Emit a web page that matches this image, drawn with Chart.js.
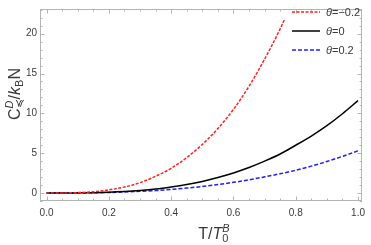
<!DOCTYPE html>
<html>
<head>
<meta charset="utf-8">
<script src="https://cdn.jsdelivr.net/npm/chart.js@4.4.1/dist/chart.umd.min.js"></script>
<style>
  html, body { margin: 0; padding: 0; background: #fff; }
  #wrap { width: 371px; height: 245px; }
</style>
</head>
<body>
<div id="wrap"><canvas id="specHeat" width="371" height="245"></canvas></div>
<script>
/* data */
const tRed = [0, 0.05, 0.1, 0.15, 0.2, 0.25, 0.3, 0.35, 0.4, 0.45, 0.5, 0.55, 0.6, 0.65, 0.7, 0.75, 0.765];
const cRed = [0, 0.01, 0.05, 0.16, 0.39, 0.76, 1.3, 2.1, 3.1, 4.45, 6.1, 8.1, 10.5, 13.4, 16.8, 20.6, 21.9];

const tAll = [0, 0.05, 0.1, 0.15, 0.2, 0.25, 0.3, 0.35, 0.4, 0.45, 0.5, 0.55, 0.6, 0.65, 0.7, 0.75, 0.8, 0.85, 0.9, 0.95, 1.0];
const cZero = [0, 0, 0.02, 0.04, 0.1, 0.19, 0.32, 0.5, 0.76, 1.07, 1.46, 1.95, 2.52, 3.2, 4.0, 4.9, 6.0, 7.15, 8.45, 9.95, 11.6];
const cPos = [0, 0, 0.01, 0.03, 0.07, 0.13, 0.21, 0.31, 0.45, 0.62, 0.82, 1.06, 1.34, 1.66, 2.03, 2.42, 2.86, 3.38, 3.96, 4.6, 5.3];

const seriesNames = ['θ=−0.2', 'θ=0', 'θ=0.2'];
const xMajor = [0, 0.2, 0.4, 0.6, 0.8, 1.0];
const yMajor = [0, 5, 10, 15, 20];

const frameColor = '#b4b4b4';
const textColor = '#3a3a3a';
const family = '"Liberation Sans", Arial, sans-serif';

function toPoints(xs, ys) {
    return xs.map((x, i) => ({ x: x, y: ys[i] }));
}

// draws a run of text pieces, some of them stacked as sup/sub
function richText(ctx, parts, cx, baseY) {
    const widthOf = p => {
        if (p.stack) return Math.max(...p.stack.map(s => { ctx.font = s.font; return ctx.measureText(s.text).width; }));
        ctx.font = p.font;
        return ctx.measureText(p.text).width;
    };
    const total = parts.reduce((a, p) => a + widthOf(p), 0);
    let x = cx - total / 2;
    parts.forEach(p => {
        const w = widthOf(p);
        const list = p.stack ? p.stack : [p];
        list.forEach(s => {
            ctx.font = s.font;
            ctx.fillText(s.text, x, baseY + (s.dy || 0));
        });
        x += w;
    });
}

const framePlugin = {
    id: 'framePlugin',
    afterDatasetsDraw(chart) {
        const ctx = chart.ctx;
        const a = chart.chartArea;
        const xs = chart.scales.x, ys = chart.scales.y;
        ctx.save();

        // frame
        ctx.strokeStyle = frameColor;
        ctx.lineWidth = 1;
        ctx.strokeRect(Math.round(a.left) + 0.5, Math.round(a.top) + 0.5, Math.round(a.right - a.left) - 1, Math.round(a.bottom - a.top) - 1);

        // inward ticks on all four sides
        ctx.beginPath();
        for (let i = 0; i <= 20; i++) {
            const px = Math.round(xs.getPixelForValue(i * 0.05)) + 0.5;
            const len = (i % 4 === 0) ? 4.5 : 2.5;
            ctx.moveTo(px, a.bottom); ctx.lineTo(px, a.bottom - len);
            ctx.moveTo(px, a.top); ctx.lineTo(px, a.top + len);
        }
        for (let v = -1; v <= 23; v++) {
            const py = Math.round(ys.getPixelForValue(v)) + 0.5;
            const len = (v % 5 === 0) ? 4.5 : 2.5;
            ctx.moveTo(a.left, py); ctx.lineTo(a.left + len, py);
            ctx.moveTo(a.right, py); ctx.lineTo(a.right - len, py);
        }
        ctx.stroke();

        // legend
        const rows = [12, 31, 50];
        chart.data.datasets.forEach((d, i) => {
            ctx.strokeStyle = d.borderColor;
            ctx.lineWidth = d.borderWidth;
            ctx.setLineDash(d.borderDash || []);
            ctx.beginPath();
            ctx.moveTo(292, rows[i]);
            ctx.lineTo(320, rows[i]);
            ctx.stroke();
            ctx.setLineDash([]);
            ctx.fillStyle = textColor;
            ctx.textBaseline = 'middle';
            ctx.textAlign = 'left';
            ctx.font = 'italic 11px ' + family;
            ctx.fillText('θ', 326, rows[i] + 0.5);
            const tw = ctx.measureText('θ').width;
            ctx.font = '11px ' + family;
            ctx.fillText(d.label.slice(1), 326 + tw, rows[i] + 0.5);
        });

        // axis titles
        ctx.fillStyle = textColor;
        ctx.textBaseline = 'alphabetic';
        ctx.textAlign = 'left';
        richText(ctx, [
            { text: 'T/', font: '16px ' + family },
            { text: 'T', font: 'italic 16px ' + family },
            { stack: [
                { text: 'B', font: 'italic 11px ' + family, dy: -7 },
                { text: '0', font: '11px ' + family, dy: 3 }
            ] }
        ], 214, 239);

        ctx.translate(20, 94);
        ctx.rotate(-Math.PI / 2);
        richText(ctx, [
            { text: 'C', font: '16px ' + family },
            { stack: [
                { text: 'D', font: 'italic 11px ' + family, dy: -7 },
                { text: '≼', font: '11px ' + family, dy: 3 }
            ] },
            { text: '/', font: '16px ' + family },
            { text: 'k', font: 'italic 16px ' + family },
            { stack: [{ text: 'B', font: '11px ' + family, dy: 3 }] },
            { text: 'N', font: '16px ' + family }
        ], 0, 0);

        ctx.restore();
    }
};

new Chart(document.getElementById('specHeat'), {
    type: 'line',
    data: {
        datasets: [
            { label: seriesNames[0], data: toPoints(tRed, cRed), borderColor: '#ff2020', borderWidth: 1.5, borderDash: [3, 1.5] },
            { label: seriesNames[1], data: toPoints(tAll, cZero), borderColor: '#000000', borderWidth: 1.5 },
            { label: seriesNames[2], data: toPoints(tAll, cPos), borderColor: '#2020ff', borderWidth: 1.5, borderDash: [4, 2] }
        ].map(d => Object.assign(d, { pointRadius: 0, fill: false, cubicInterpolationMode: 'monotone' }))
    },
    options: {
        responsive: false,
        animation: false,
        devicePixelRatio: 1,
        layout: { padding: { left: 0, right: 1, top: 1, bottom: 0 } },
        plugins: { legend: { display: false }, tooltip: { enabled: false } },
        scales: {
            x: {
                type: 'linear',
                min: -0.021,
                max: 1.013,
                grid: { display: false, drawTicks: false },
                border: { display: false },
                afterBuildTicks: s => { s.ticks = xMajor.map(v => ({ value: v })); },
                afterFit: s => { s.height = 44; },
                ticks: { color: textColor, padding: 6, font: { size: 10, family: family }, callback: v => v.toFixed(1), maxRotation: 0 }
            },
            y: {
                type: 'linear',
                min: -1,
                max: 23.1,
                grid: { display: false, drawTicks: false },
                border: { display: false },
                afterBuildTicks: s => { s.ticks = yMajor.map(v => ({ value: v })); },
                afterFit: s => { s.width = 40; },
                ticks: { color: textColor, padding: 3, font: { size: 10, family: family } }
            }
        }
    },
    plugins: [framePlugin]
});
</script>
</body>
</html>
